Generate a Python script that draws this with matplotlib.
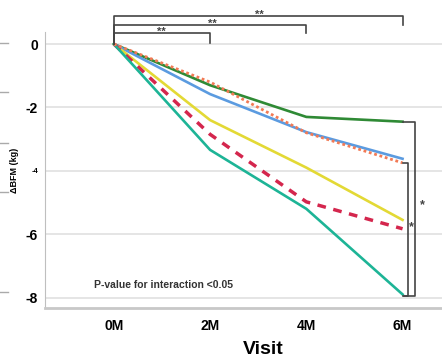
import matplotlib
matplotlib.use("Agg")
import matplotlib.pyplot as plt
from matplotlib.lines import Line2D

plt.rcParams['font.family'] = ['Liberation Sans', 'DejaVu Sans']

visits = ["0M", "2M", "4M", "6M"]
green = [0, -1.3, -2.3, -2.45]
blue = [0, -1.58, -2.78, -3.62]
orange = [0, -1.2, -2.8, -3.75]
yellow = [0, -2.4, -3.9, -5.55]
crimson = [0, -2.85, -4.98, -5.83]
teal = [0, -3.34, -5.2, -7.9]
yticks = [0, -2, -4, -6, -8]

W, H = 442, 358
fig = plt.figure(figsize=(W/100, H/100), dpi=100)
ax = fig.add_axes([45/W, 1-308/H, 1-45/W, (308-32)/H])
x = list(range(len(visits)))

ax.set_xlim(-0.716, 3.41)
ax.set_ylim(-8.33, 0.38)

for y in yticks:
    ax.axhline(y, color="#e0e0e0", lw=1.2, zorder=0)

ax.plot(x, green, color="#2f8a35", lw=1.9, zorder=3)
ax.plot(x, blue, color="#5b9be0", lw=1.9, zorder=3)
ax.plot(x, orange, color="#f27a55", lw=2.0, ls=(0, (1, 1)), zorder=4)
ax.plot(x, yellow, color="#e3d935", lw=1.9, zorder=3)
ax.plot(x, crimson, color="#d4264d", lw=2.5, ls=(0, (2.5, 2.2)), zorder=3)
ax.plot(x, teal, color="#1db496", lw=1.9, zorder=3)

for s in ["top", "right"]:
    ax.spines[s].set_visible(False)
ax.spines["left"].set_color("#bfbfbf")
ax.spines["bottom"].set_color("#c8c8c8")
ax.spines["bottom"].set_linewidth(2.0)

ax.set_xticks(x)
ax.set_xticklabels(visits, fontsize=10, fontweight="bold")
ax.tick_params(axis="x", length=0, pad=8)
ax.set_yticks(yticks)
labs = ax.set_yticklabels([str(v) for v in yticks], fontsize=10, fontweight="bold")
labs[2].set_fontsize(5.5)
ax.tick_params(axis="y", length=0, pad=5)
ax.set_xlabel("Visit", fontsize=14, fontweight="bold")
ax.xaxis.set_label_coords(0.549, -0.118)
ax.set_ylabel("ΔBFM (kg)", fontsize=6.5, fontweight="bold", labelpad=5)

bc = "#444444"
# top brackets
for xe, ytop, ydrop, sx, sy in [(1, 0.35, 0.03, 0.49, 0.40),
                                 (2, 0.60, 0.35, 1.02, 0.65),
                                 (3, 0.88, 0.60, 1.51, 0.93)]:
    ax.plot([0, 0, xe, xe], [0.0, ytop, ytop, ydrop], color=bc, lw=1.2,
            clip_on=False, zorder=5)
    ax.text(sx, sy, "**", fontsize=8, ha="center", va="center", color=bc,
            fontweight="bold", clip_on=False)

# right brackets
ax.plot([3.0, 3.13, 3.13, 3.02], [-2.45, -2.45, -7.95, -7.95], color=bc,
        lw=1.2, clip_on=False, zorder=5)
ax.plot([3.0, 3.06, 3.06, 3.0], [-3.75, -3.75, -7.95, -7.95], color=bc,
        lw=1.2, clip_on=False, zorder=5)
ax.text(3.21, -5.1, "*", fontsize=9, ha="center", va="center", color=bc,
        fontweight="bold", clip_on=False)
ax.text(3.095, -5.77, "*", fontsize=9, ha="center", va="center", color=bc,
        fontweight="bold", clip_on=False)

ax.text(-0.21, -7.6, "P-value for interaction <0.05", fontsize=7.5,
        fontweight="bold", color="#333333", ha="left", va="center")

# small edge stubs at the left border
for yp in [43, 92, 143, 192, 292]:
    fig.add_artist(Line2D([0, 8/W], [1-yp/H, 1-yp/H], color="#aaaaaa", lw=1.0))

fig.savefig("out.png", dpi=100)
